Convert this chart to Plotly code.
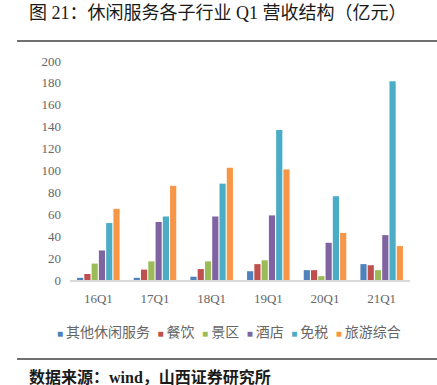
import plotly.graph_objects as go

categories = ["16Q1", "17Q1", "18Q1", "19Q1", "20Q1", "21Q1"]
series_names = ["其他休闲服务", "餐饮", "景区", "酒店", "免税", "旅游综合"]
other_leisure = [2, 2, 3, 8, 9, 14.5]
catering = [5.5, 9.5, 10, 14.5, 9, 13.5]
scenic = [15, 17, 17, 18, 3.5, 9]
hotel = [27, 53, 58, 59, 34, 41]
duty_free = [52, 58, 88, 137, 76.5, 181.5]
tourism = [65, 86, 102.5, 101, 43, 31]
y_ticks = [0, 20, 40, 60, 80, 100, 120, 140, 160, 180, 200]

colors = ["#4F81BD", "#C0504D", "#9BBB59", "#8064A2", "#4BACC6", "#F79646"]
values = [other_leisure, catering, scenic, hotel, duty_free, tourism]

fig = go.Figure()
for name, vals, col in zip(series_names, values, colors):
    fig.add_trace(go.Bar(x=categories, y=vals, name=name, marker_color=col,
                         marker_line_width=0, showlegend=False))

serif = "Times New Roman, Liberation Serif, Noto Serif CJK SC, serif"
tick_font = dict(family=serif, size=13, color="#666666")

fig.update_layout(
    width=437, height=385,
    margin=dict(l=70, r=27, t=61, b=105),
    paper_bgcolor="white", plot_bgcolor="white",
    barmode="group", bargap=0.23, bargroupgap=0.15,
    xaxis=dict(showgrid=False, showline=True, linecolor="#D9D9D9", linewidth=1.5,
               ticks="", tickfont=tick_font, ticklabelstandoff=6),
    yaxis=dict(range=[0, 200], tickvals=y_ticks, showgrid=False, zeroline=False,
               showline=False, ticks="", tickfont=tick_font, ticklabelstandoff=8),
    font=dict(family="Noto Sans CJK SC"),
)

# Title and footer
fig.add_annotation(xref="paper", yref="paper", x=(27 - 70) / 340, y=1 + (61 - 13) / 219,
                   xanchor="left", yanchor="middle", showarrow=False,
                   text="图 21：休闲服务各子行业 Q1 营收结构（亿元）",
                   font=dict(family="Liberation Serif, Noto Sans CJK SC", size=18, color="#1a1a1a"))
fig.add_annotation(xref="paper", yref="paper", x=(27 - 70) / 340, y=-(377 - 280) / 219,
                   xanchor="left", yanchor="middle", showarrow=False,
                   text="<b>数据来源：wind，山西证券研究所</b>",
                   font=dict(family="Liberation Serif, Noto Sans CJK SC", size=16, color="#1a1a1a"))

# lines
fig.add_shape(type="line", xref="paper", yref="paper", x0=(17 - 70) / 340, x1=(437 - 70) / 340,
              y0=1 + (61 - 41) / 219, y1=1 + (61 - 41) / 219, line=dict(color="#404040", width=1.3))
fig.add_shape(type="line", xref="paper", yref="paper", x0=(17 - 70) / 340, x1=(437 - 70) / 340,
              y0=-(359 - 280) / 219, y1=-(359 - 280) / 219, line=dict(color="#404040", width=1.3))

# legend
parts = []
for name, col in zip(series_names, colors):
    parts.append(f"<span style='color:{col};font-size:10px'>■</span><span style='font-size:12px'> </span>{name}")
legend_text = "<span style='font-size:30px'> </span>".join(parts)
fig.add_annotation(xref="paper", yref="paper", x=(229 - 70) / 340, y=-(326 - 280) / 219,
                   xanchor="center", yanchor="middle", showarrow=False,
                   text=legend_text,
                   font=dict(family="Liberation Serif, Noto Sans CJK SC", size=14, color="#666666"))

fig.write_html("out.html", config={"displayModeBar": False},
               post_script="document.body.style.margin='0';")
